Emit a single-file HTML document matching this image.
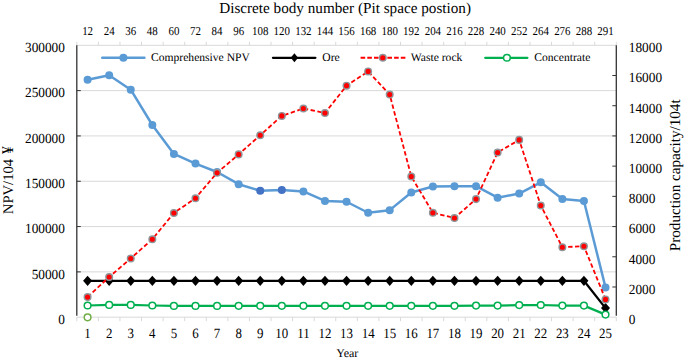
<!DOCTYPE html>
<html><head><meta charset="utf-8"><style>
html,body{margin:0;padding:0;background:#fff;}
body{width:685px;height:360px;overflow:hidden;}
svg{display:block;}
text{font-family:"Liberation Serif", serif;fill:#000;text-rendering:geometricPrecision;}
</style></head><body>
<svg width="685" height="360" viewBox="0 0 685 360">
<rect width="685" height="360" fill="#fff"/>

<line x1="76.8" y1="271.88" x2="616.3" y2="271.88" stroke="#d9d9d9" stroke-width="1"/>
<line x1="76.8" y1="226.57" x2="616.3" y2="226.57" stroke="#d9d9d9" stroke-width="1"/>
<line x1="76.8" y1="181.25" x2="616.3" y2="181.25" stroke="#d9d9d9" stroke-width="1"/>
<line x1="76.8" y1="135.93" x2="616.3" y2="135.93" stroke="#d9d9d9" stroke-width="1"/>
<line x1="76.8" y1="90.62" x2="616.3" y2="90.62" stroke="#d9d9d9" stroke-width="1"/>
<line x1="76.8" y1="45.30" x2="616.3" y2="45.30" stroke="#d9d9d9" stroke-width="1"/>
<line x1="76.8" y1="317.20" x2="616.3" y2="317.20" stroke="#d9d9d9" stroke-width="1"/>
<line x1="76.80" y1="317.2" x2="76.80" y2="321.2" stroke="#d9d9d9" stroke-width="1"/>
<line x1="98.38" y1="317.2" x2="98.38" y2="321.2" stroke="#d9d9d9" stroke-width="1"/>
<line x1="119.96" y1="317.2" x2="119.96" y2="321.2" stroke="#d9d9d9" stroke-width="1"/>
<line x1="141.54" y1="317.2" x2="141.54" y2="321.2" stroke="#d9d9d9" stroke-width="1"/>
<line x1="163.12" y1="317.2" x2="163.12" y2="321.2" stroke="#d9d9d9" stroke-width="1"/>
<line x1="184.70" y1="317.2" x2="184.70" y2="321.2" stroke="#d9d9d9" stroke-width="1"/>
<line x1="206.28" y1="317.2" x2="206.28" y2="321.2" stroke="#d9d9d9" stroke-width="1"/>
<line x1="227.86" y1="317.2" x2="227.86" y2="321.2" stroke="#d9d9d9" stroke-width="1"/>
<line x1="249.44" y1="317.2" x2="249.44" y2="321.2" stroke="#d9d9d9" stroke-width="1"/>
<line x1="271.02" y1="317.2" x2="271.02" y2="321.2" stroke="#d9d9d9" stroke-width="1"/>
<line x1="292.60" y1="317.2" x2="292.60" y2="321.2" stroke="#d9d9d9" stroke-width="1"/>
<line x1="314.18" y1="317.2" x2="314.18" y2="321.2" stroke="#d9d9d9" stroke-width="1"/>
<line x1="335.76" y1="317.2" x2="335.76" y2="321.2" stroke="#d9d9d9" stroke-width="1"/>
<line x1="357.34" y1="317.2" x2="357.34" y2="321.2" stroke="#d9d9d9" stroke-width="1"/>
<line x1="378.92" y1="317.2" x2="378.92" y2="321.2" stroke="#d9d9d9" stroke-width="1"/>
<line x1="400.50" y1="317.2" x2="400.50" y2="321.2" stroke="#d9d9d9" stroke-width="1"/>
<line x1="422.08" y1="317.2" x2="422.08" y2="321.2" stroke="#d9d9d9" stroke-width="1"/>
<line x1="443.66" y1="317.2" x2="443.66" y2="321.2" stroke="#d9d9d9" stroke-width="1"/>
<line x1="465.24" y1="317.2" x2="465.24" y2="321.2" stroke="#d9d9d9" stroke-width="1"/>
<line x1="486.82" y1="317.2" x2="486.82" y2="321.2" stroke="#d9d9d9" stroke-width="1"/>
<line x1="508.40" y1="317.2" x2="508.40" y2="321.2" stroke="#d9d9d9" stroke-width="1"/>
<line x1="529.98" y1="317.2" x2="529.98" y2="321.2" stroke="#d9d9d9" stroke-width="1"/>
<line x1="551.56" y1="317.2" x2="551.56" y2="321.2" stroke="#d9d9d9" stroke-width="1"/>
<line x1="573.14" y1="317.2" x2="573.14" y2="321.2" stroke="#d9d9d9" stroke-width="1"/>
<line x1="594.72" y1="317.2" x2="594.72" y2="321.2" stroke="#d9d9d9" stroke-width="1"/>
<line x1="616.30" y1="317.2" x2="616.30" y2="321.2" stroke="#d9d9d9" stroke-width="1"/>
<line x1="76.80" y1="45.3" x2="76.80" y2="41.8" stroke="#d9d9d9" stroke-width="1"/>
<line x1="98.38" y1="45.3" x2="98.38" y2="41.8" stroke="#d9d9d9" stroke-width="1"/>
<line x1="119.96" y1="45.3" x2="119.96" y2="41.8" stroke="#d9d9d9" stroke-width="1"/>
<line x1="141.54" y1="45.3" x2="141.54" y2="41.8" stroke="#d9d9d9" stroke-width="1"/>
<line x1="163.12" y1="45.3" x2="163.12" y2="41.8" stroke="#d9d9d9" stroke-width="1"/>
<line x1="184.70" y1="45.3" x2="184.70" y2="41.8" stroke="#d9d9d9" stroke-width="1"/>
<line x1="206.28" y1="45.3" x2="206.28" y2="41.8" stroke="#d9d9d9" stroke-width="1"/>
<line x1="227.86" y1="45.3" x2="227.86" y2="41.8" stroke="#d9d9d9" stroke-width="1"/>
<line x1="249.44" y1="45.3" x2="249.44" y2="41.8" stroke="#d9d9d9" stroke-width="1"/>
<line x1="271.02" y1="45.3" x2="271.02" y2="41.8" stroke="#d9d9d9" stroke-width="1"/>
<line x1="292.60" y1="45.3" x2="292.60" y2="41.8" stroke="#d9d9d9" stroke-width="1"/>
<line x1="314.18" y1="45.3" x2="314.18" y2="41.8" stroke="#d9d9d9" stroke-width="1"/>
<line x1="335.76" y1="45.3" x2="335.76" y2="41.8" stroke="#d9d9d9" stroke-width="1"/>
<line x1="357.34" y1="45.3" x2="357.34" y2="41.8" stroke="#d9d9d9" stroke-width="1"/>
<line x1="378.92" y1="45.3" x2="378.92" y2="41.8" stroke="#d9d9d9" stroke-width="1"/>
<line x1="400.50" y1="45.3" x2="400.50" y2="41.8" stroke="#d9d9d9" stroke-width="1"/>
<line x1="422.08" y1="45.3" x2="422.08" y2="41.8" stroke="#d9d9d9" stroke-width="1"/>
<line x1="443.66" y1="45.3" x2="443.66" y2="41.8" stroke="#d9d9d9" stroke-width="1"/>
<line x1="465.24" y1="45.3" x2="465.24" y2="41.8" stroke="#d9d9d9" stroke-width="1"/>
<line x1="486.82" y1="45.3" x2="486.82" y2="41.8" stroke="#d9d9d9" stroke-width="1"/>
<line x1="508.40" y1="45.3" x2="508.40" y2="41.8" stroke="#d9d9d9" stroke-width="1"/>
<line x1="529.98" y1="45.3" x2="529.98" y2="41.8" stroke="#d9d9d9" stroke-width="1"/>
<line x1="551.56" y1="45.3" x2="551.56" y2="41.8" stroke="#d9d9d9" stroke-width="1"/>
<line x1="573.14" y1="45.3" x2="573.14" y2="41.8" stroke="#d9d9d9" stroke-width="1"/>
<line x1="594.72" y1="45.3" x2="594.72" y2="41.8" stroke="#d9d9d9" stroke-width="1"/>
<line x1="616.30" y1="45.3" x2="616.30" y2="41.8" stroke="#d9d9d9" stroke-width="1"/>
<line x1="76.8" y1="45.3" x2="76.8" y2="315.7" stroke="#333" stroke-width="1.3"/>
<line x1="76.8" y1="271.88" x2="80.8" y2="271.88" stroke="#333" stroke-width="1"/>
<line x1="76.8" y1="226.57" x2="80.8" y2="226.57" stroke="#333" stroke-width="1"/>
<line x1="76.8" y1="181.25" x2="80.8" y2="181.25" stroke="#333" stroke-width="1"/>
<line x1="76.8" y1="135.93" x2="80.8" y2="135.93" stroke="#333" stroke-width="1"/>
<line x1="76.8" y1="90.62" x2="80.8" y2="90.62" stroke="#333" stroke-width="1"/>
<line x1="616.3" y1="45.3" x2="616.3" y2="315.7" stroke="#333" stroke-width="1.3"/>
<line x1="612.3" y1="286.99" x2="616.3" y2="286.99" stroke="#333" stroke-width="1"/>
<line x1="612.3" y1="256.78" x2="616.3" y2="256.78" stroke="#333" stroke-width="1"/>
<line x1="612.3" y1="226.57" x2="616.3" y2="226.57" stroke="#333" stroke-width="1"/>
<line x1="612.3" y1="196.36" x2="616.3" y2="196.36" stroke="#333" stroke-width="1"/>
<line x1="612.3" y1="166.14" x2="616.3" y2="166.14" stroke="#333" stroke-width="1"/>
<line x1="612.3" y1="135.93" x2="616.3" y2="135.93" stroke="#333" stroke-width="1"/>
<line x1="612.3" y1="105.72" x2="616.3" y2="105.72" stroke="#333" stroke-width="1"/>
<line x1="612.3" y1="75.51" x2="616.3" y2="75.51" stroke="#333" stroke-width="1"/>
<polyline points="87.59,79.80 109.17,75.25 130.75,89.70 152.33,125.00 173.91,153.90 195.49,163.60 217.07,172.00 238.65,184.20 260.23,190.80 281.81,189.90 303.39,191.45 324.97,200.95 346.55,201.75 368.13,212.75 389.71,210.15 411.29,192.55 432.87,186.45 454.45,186.25 476.03,186.15 497.61,197.65 519.19,193.55 540.77,182.35 562.35,199.05 583.93,201.05 605.51,287.40" fill="none" stroke="#5b9bd5" stroke-width="2.5" stroke-linejoin="round"/>
<circle cx="87.59" cy="79.80" r="4.0" fill="#5b9bd5"/>
<circle cx="109.17" cy="75.25" r="4.0" fill="#5b9bd5"/>
<circle cx="130.75" cy="89.70" r="4.0" fill="#5b9bd5"/>
<circle cx="152.33" cy="125.00" r="4.0" fill="#5b9bd5"/>
<circle cx="173.91" cy="153.90" r="4.0" fill="#5b9bd5"/>
<circle cx="195.49" cy="163.60" r="4.0" fill="#5b9bd5"/>
<circle cx="217.07" cy="172.00" r="4.0" fill="#5b9bd5"/>
<circle cx="238.65" cy="184.20" r="4.0" fill="#5b9bd5"/>
<circle cx="260.23" cy="190.80" r="4.0" fill="#4472c4"/>
<circle cx="281.81" cy="189.90" r="4.0" fill="#4472c4"/>
<circle cx="303.39" cy="191.45" r="4.0" fill="#5b9bd5"/>
<circle cx="324.97" cy="200.95" r="4.0" fill="#5b9bd5"/>
<circle cx="346.55" cy="201.75" r="4.0" fill="#5b9bd5"/>
<circle cx="368.13" cy="212.75" r="4.0" fill="#5b9bd5"/>
<circle cx="389.71" cy="210.15" r="4.0" fill="#5b9bd5"/>
<circle cx="411.29" cy="192.55" r="4.0" fill="#5b9bd5"/>
<circle cx="432.87" cy="186.45" r="4.0" fill="#5b9bd5"/>
<circle cx="454.45" cy="186.25" r="4.0" fill="#5b9bd5"/>
<circle cx="476.03" cy="186.15" r="4.0" fill="#5b9bd5"/>
<circle cx="497.61" cy="197.65" r="4.0" fill="#5b9bd5"/>
<circle cx="519.19" cy="193.55" r="4.0" fill="#5b9bd5"/>
<circle cx="540.77" cy="182.35" r="4.0" fill="#5b9bd5"/>
<circle cx="562.35" cy="199.05" r="4.0" fill="#5b9bd5"/>
<circle cx="583.93" cy="201.05" r="4.0" fill="#5b9bd5"/>
<circle cx="605.51" cy="287.40" r="4.0" fill="#5b9bd5"/>
<polyline points="87.59,280.80 109.17,280.80 130.75,280.80 152.33,280.80 173.91,280.80 195.49,280.80 217.07,280.80 238.65,280.80 260.23,280.80 281.81,280.80 303.39,280.80 324.97,280.80 346.55,280.80 368.13,280.80 389.71,280.80 411.29,280.80 432.87,280.80 454.45,280.80 476.03,280.80 497.61,280.80 519.19,280.80 540.77,280.80 562.35,280.80 583.93,280.80 605.51,308.10" fill="none" stroke="#000" stroke-width="2.25" stroke-linejoin="round"/>
<path d="M83.09,280.80 L87.59,275.70 L92.09,280.80 L87.59,285.90Z" fill="#000"/>
<path d="M104.67,280.80 L109.17,275.70 L113.67,280.80 L109.17,285.90Z" fill="#000"/>
<path d="M126.25,280.80 L130.75,275.70 L135.25,280.80 L130.75,285.90Z" fill="#000"/>
<path d="M147.83,280.80 L152.33,275.70 L156.83,280.80 L152.33,285.90Z" fill="#000"/>
<path d="M169.41,280.80 L173.91,275.70 L178.41,280.80 L173.91,285.90Z" fill="#000"/>
<path d="M190.99,280.80 L195.49,275.70 L199.99,280.80 L195.49,285.90Z" fill="#000"/>
<path d="M212.57,280.80 L217.07,275.70 L221.57,280.80 L217.07,285.90Z" fill="#000"/>
<path d="M234.15,280.80 L238.65,275.70 L243.15,280.80 L238.65,285.90Z" fill="#000"/>
<path d="M255.73,280.80 L260.23,275.70 L264.73,280.80 L260.23,285.90Z" fill="#000"/>
<path d="M277.31,280.80 L281.81,275.70 L286.31,280.80 L281.81,285.90Z" fill="#000"/>
<path d="M298.89,280.80 L303.39,275.70 L307.89,280.80 L303.39,285.90Z" fill="#000"/>
<path d="M320.47,280.80 L324.97,275.70 L329.47,280.80 L324.97,285.90Z" fill="#000"/>
<path d="M342.05,280.80 L346.55,275.70 L351.05,280.80 L346.55,285.90Z" fill="#000"/>
<path d="M363.63,280.80 L368.13,275.70 L372.63,280.80 L368.13,285.90Z" fill="#000"/>
<path d="M385.21,280.80 L389.71,275.70 L394.21,280.80 L389.71,285.90Z" fill="#000"/>
<path d="M406.79,280.80 L411.29,275.70 L415.79,280.80 L411.29,285.90Z" fill="#000"/>
<path d="M428.37,280.80 L432.87,275.70 L437.37,280.80 L432.87,285.90Z" fill="#000"/>
<path d="M449.95,280.80 L454.45,275.70 L458.95,280.80 L454.45,285.90Z" fill="#000"/>
<path d="M471.53,280.80 L476.03,275.70 L480.53,280.80 L476.03,285.90Z" fill="#000"/>
<path d="M493.11,280.80 L497.61,275.70 L502.11,280.80 L497.61,285.90Z" fill="#000"/>
<path d="M514.69,280.80 L519.19,275.70 L523.69,280.80 L519.19,285.90Z" fill="#000"/>
<path d="M536.27,280.80 L540.77,275.70 L545.27,280.80 L540.77,285.90Z" fill="#000"/>
<path d="M557.85,280.80 L562.35,275.70 L566.85,280.80 L562.35,285.90Z" fill="#000"/>
<path d="M579.43,280.80 L583.93,275.70 L588.43,280.80 L583.93,285.90Z" fill="#000"/>
<path d="M601.01,308.10 L605.51,303.00 L610.01,308.10 L605.51,313.20Z" fill="#000"/>
<polyline points="87.59,297.10 109.17,276.95 130.75,258.45 152.33,239.20 173.91,212.95 195.49,198.20 217.07,172.80 238.65,154.40 260.23,135.20 281.81,115.90 303.39,108.50 324.97,113.00 346.55,85.70 368.13,71.40 389.71,94.60 411.29,176.50 432.87,212.80 454.45,218.00 476.03,199.10 497.61,152.50 519.19,139.90 540.77,205.50 562.35,247.20 583.93,246.20 605.51,299.40" fill="none" stroke="#ff0000" stroke-width="1.8" stroke-dasharray="4.4 2.5"/>
<circle cx="87.59" cy="297.10" r="3.3" fill="#ff0000" stroke="#8f9699" stroke-width="1.45"/>
<circle cx="109.17" cy="276.95" r="3.3" fill="#ff0000" stroke="#8f9699" stroke-width="1.45"/>
<circle cx="130.75" cy="258.45" r="3.3" fill="#ff0000" stroke="#8f9699" stroke-width="1.45"/>
<circle cx="152.33" cy="239.20" r="3.3" fill="#ff0000" stroke="#8f9699" stroke-width="1.45"/>
<circle cx="173.91" cy="212.95" r="3.3" fill="#ff0000" stroke="#8f9699" stroke-width="1.45"/>
<circle cx="195.49" cy="198.20" r="3.3" fill="#ff0000" stroke="#8f9699" stroke-width="1.45"/>
<circle cx="217.07" cy="172.80" r="3.3" fill="#ff0000" stroke="#8f9699" stroke-width="1.45"/>
<circle cx="238.65" cy="154.40" r="3.3" fill="#ff0000" stroke="#8f9699" stroke-width="1.45"/>
<circle cx="260.23" cy="135.20" r="3.3" fill="#ff0000" stroke="#8f9699" stroke-width="1.45"/>
<circle cx="281.81" cy="115.90" r="3.3" fill="#ff0000" stroke="#8f9699" stroke-width="1.45"/>
<circle cx="303.39" cy="108.50" r="3.3" fill="#ff0000" stroke="#8f9699" stroke-width="1.45"/>
<circle cx="324.97" cy="113.00" r="3.3" fill="#ff0000" stroke="#8f9699" stroke-width="1.45"/>
<circle cx="346.55" cy="85.70" r="3.3" fill="#ff0000" stroke="#8f9699" stroke-width="1.45"/>
<circle cx="368.13" cy="71.40" r="3.3" fill="#ff0000" stroke="#8f9699" stroke-width="1.45"/>
<circle cx="389.71" cy="94.60" r="3.3" fill="#ff0000" stroke="#8f9699" stroke-width="1.45"/>
<circle cx="411.29" cy="176.50" r="3.3" fill="#ff0000" stroke="#8f9699" stroke-width="1.45"/>
<circle cx="432.87" cy="212.80" r="3.3" fill="#ff0000" stroke="#8f9699" stroke-width="1.45"/>
<circle cx="454.45" cy="218.00" r="3.3" fill="#ff0000" stroke="#8f9699" stroke-width="1.45"/>
<circle cx="476.03" cy="199.10" r="3.3" fill="#ff0000" stroke="#8f9699" stroke-width="1.45"/>
<circle cx="497.61" cy="152.50" r="3.3" fill="#ff0000" stroke="#8f9699" stroke-width="1.45"/>
<circle cx="519.19" cy="139.90" r="3.3" fill="#ff0000" stroke="#8f9699" stroke-width="1.45"/>
<circle cx="540.77" cy="205.50" r="3.3" fill="#ff0000" stroke="#8f9699" stroke-width="1.45"/>
<circle cx="562.35" cy="247.20" r="3.3" fill="#ff0000" stroke="#8f9699" stroke-width="1.45"/>
<circle cx="583.93" cy="246.20" r="3.3" fill="#ff0000" stroke="#8f9699" stroke-width="1.45"/>
<circle cx="605.51" cy="299.40" r="3.3" fill="#ff0000" stroke="#8f9699" stroke-width="1.45"/>
<polyline points="87.59,305.50 109.17,304.90 130.75,304.90 152.33,305.50 173.91,305.90 195.49,305.90 217.07,305.90 238.65,305.80 260.23,305.80 281.81,305.80 303.39,305.80 324.97,305.80 346.55,305.80 368.13,305.80 389.71,305.80 411.29,305.80 432.87,305.80 454.45,305.80 476.03,305.60 497.61,305.60 519.19,305.10 540.77,305.00 562.35,305.60 583.93,305.60 605.51,314.60" fill="none" stroke="#00b050" stroke-width="2.25" stroke-linejoin="round"/>
<circle cx="87.59" cy="305.50" r="3.35" fill="#fff" stroke="#00b050" stroke-width="1.5"/>
<circle cx="109.17" cy="304.90" r="3.35" fill="#fff" stroke="#00b050" stroke-width="1.5"/>
<circle cx="130.75" cy="304.90" r="3.35" fill="#fff" stroke="#00b050" stroke-width="1.5"/>
<circle cx="152.33" cy="305.50" r="3.35" fill="#fff" stroke="#00b050" stroke-width="1.5"/>
<circle cx="173.91" cy="305.90" r="3.35" fill="#fff" stroke="#00b050" stroke-width="1.5"/>
<circle cx="195.49" cy="305.90" r="3.35" fill="#fff" stroke="#00b050" stroke-width="1.5"/>
<circle cx="217.07" cy="305.90" r="3.35" fill="#fff" stroke="#00b050" stroke-width="1.5"/>
<circle cx="238.65" cy="305.80" r="3.35" fill="#fff" stroke="#00b050" stroke-width="1.5"/>
<circle cx="260.23" cy="305.80" r="3.35" fill="#fff" stroke="#00b050" stroke-width="1.5"/>
<circle cx="281.81" cy="305.80" r="3.35" fill="#fff" stroke="#00b050" stroke-width="1.5"/>
<circle cx="303.39" cy="305.80" r="3.35" fill="#fff" stroke="#00b050" stroke-width="1.5"/>
<circle cx="324.97" cy="305.80" r="3.35" fill="#fff" stroke="#00b050" stroke-width="1.5"/>
<circle cx="346.55" cy="305.80" r="3.35" fill="#fff" stroke="#00b050" stroke-width="1.5"/>
<circle cx="368.13" cy="305.80" r="3.35" fill="#fff" stroke="#00b050" stroke-width="1.5"/>
<circle cx="389.71" cy="305.80" r="3.35" fill="#fff" stroke="#00b050" stroke-width="1.5"/>
<circle cx="411.29" cy="305.80" r="3.35" fill="#fff" stroke="#00b050" stroke-width="1.5"/>
<circle cx="432.87" cy="305.80" r="3.35" fill="#fff" stroke="#00b050" stroke-width="1.5"/>
<circle cx="454.45" cy="305.80" r="3.35" fill="#fff" stroke="#00b050" stroke-width="1.5"/>
<circle cx="476.03" cy="305.60" r="3.35" fill="#fff" stroke="#00b050" stroke-width="1.5"/>
<circle cx="497.61" cy="305.60" r="3.35" fill="#fff" stroke="#00b050" stroke-width="1.5"/>
<circle cx="519.19" cy="305.10" r="3.35" fill="#fff" stroke="#00b050" stroke-width="1.5"/>
<circle cx="540.77" cy="305.00" r="3.35" fill="#fff" stroke="#00b050" stroke-width="1.5"/>
<circle cx="562.35" cy="305.60" r="3.35" fill="#fff" stroke="#00b050" stroke-width="1.5"/>
<circle cx="583.93" cy="305.60" r="3.35" fill="#fff" stroke="#00b050" stroke-width="1.5"/>
<circle cx="605.51" cy="314.60" r="3.35" fill="#fff" stroke="#00b050" stroke-width="1.5"/>
<circle cx="87.59" cy="317.3" r="3.35" fill="#fff" stroke="#70ad47" stroke-width="1.5"/>
<line x1="102.25" y1="57.75" x2="144.45" y2="57.75" stroke="#5b9bd5" stroke-width="2.5" stroke-linecap="round"/>
<circle cx="123.4" cy="57.75" r="4.0" fill="#5b9bd5"/>
<line x1="272.925" y1="57.75" x2="315.375" y2="57.75" stroke="#000" stroke-width="2.25" stroke-linecap="round"/>
<path d="M290.7,57.75 L294.4,53.35 L298.09999999999997,57.75 L294.4,62.15Z" fill="#000"/>
<line x1="360.6" y1="57.75" x2="405.4" y2="57.75" stroke="#ff0000" stroke-width="1.8" stroke-dasharray="4.6 2.1"/>
<circle cx="382.8" cy="57.75" r="3.3" fill="#ff0000" stroke="#8f9699" stroke-width="1.45"/>
<line x1="485.225" y1="57.75" x2="527.375" y2="57.75" stroke="#00b050" stroke-width="2.25" stroke-linecap="round"/>
<circle cx="506.9" cy="57.75" r="3.35" fill="#fff" stroke="#00b050" stroke-width="1.5"/>
<text x="151" y="61.35" font-size="11.6">Comprehensive NPV</text>
<text x="322.3" y="61.35" font-size="11.6">Ore</text>
<text x="410.8" y="61.35" font-size="11.6">Waste rock</text>
<text x="534.3" y="61.35" font-size="11.6">Concentrate</text>
<text transform="translate(64.90,324.00) scale(0.95,1)" font-size="14" text-anchor="end">0</text>
<text transform="translate(64.90,278.68) scale(0.95,1)" font-size="14" text-anchor="end">50000</text>
<text transform="translate(64.90,233.37) scale(0.95,1)" font-size="14" text-anchor="end">100000</text>
<text transform="translate(64.90,188.05) scale(0.95,1)" font-size="14" text-anchor="end">150000</text>
<text transform="translate(64.90,142.73) scale(0.95,1)" font-size="14" text-anchor="end">200000</text>
<text transform="translate(64.90,97.42) scale(0.95,1)" font-size="14" text-anchor="end">250000</text>
<text transform="translate(64.90,52.10) scale(0.95,1)" font-size="14" text-anchor="end">300000</text>
<text transform="translate(628.80,324.00) scale(0.95,1)" font-size="14" text-anchor="start">0</text>
<text transform="translate(628.80,293.79) scale(0.95,1)" font-size="14" text-anchor="start">2000</text>
<text transform="translate(628.80,263.58) scale(0.95,1)" font-size="14" text-anchor="start">4000</text>
<text transform="translate(628.80,233.37) scale(0.95,1)" font-size="14" text-anchor="start">6000</text>
<text transform="translate(628.80,203.16) scale(0.95,1)" font-size="14" text-anchor="start">8000</text>
<text transform="translate(628.80,172.94) scale(0.95,1)" font-size="14" text-anchor="start">10000</text>
<text transform="translate(628.80,142.73) scale(0.95,1)" font-size="14" text-anchor="start">12000</text>
<text transform="translate(628.80,112.52) scale(0.95,1)" font-size="14" text-anchor="start">14000</text>
<text transform="translate(628.80,82.31) scale(0.95,1)" font-size="14" text-anchor="start">16000</text>
<text transform="translate(628.80,52.10) scale(0.95,1)" font-size="14" text-anchor="start">18000</text>
<text transform="translate(87.59,338.00) scale(0.91,1)" font-size="14.2" text-anchor="middle">1</text>
<text transform="translate(109.17,338.00) scale(0.91,1)" font-size="14.2" text-anchor="middle">2</text>
<text transform="translate(130.75,338.00) scale(0.91,1)" font-size="14.2" text-anchor="middle">3</text>
<text transform="translate(152.33,338.00) scale(0.91,1)" font-size="14.2" text-anchor="middle">4</text>
<text transform="translate(173.91,338.00) scale(0.91,1)" font-size="14.2" text-anchor="middle">5</text>
<text transform="translate(195.49,338.00) scale(0.91,1)" font-size="14.2" text-anchor="middle">6</text>
<text transform="translate(217.07,338.00) scale(0.91,1)" font-size="14.2" text-anchor="middle">7</text>
<text transform="translate(238.65,338.00) scale(0.91,1)" font-size="14.2" text-anchor="middle">8</text>
<text transform="translate(260.23,338.00) scale(0.91,1)" font-size="14.2" text-anchor="middle">9</text>
<text transform="translate(281.81,338.00) scale(0.91,1)" font-size="14.2" text-anchor="middle">10</text>
<text transform="translate(303.39,338.00) scale(0.91,1)" font-size="14.2" text-anchor="middle">11</text>
<text transform="translate(324.97,338.00) scale(0.91,1)" font-size="14.2" text-anchor="middle">12</text>
<text transform="translate(346.55,338.00) scale(0.91,1)" font-size="14.2" text-anchor="middle">13</text>
<text transform="translate(368.13,338.00) scale(0.91,1)" font-size="14.2" text-anchor="middle">14</text>
<text transform="translate(389.71,338.00) scale(0.91,1)" font-size="14.2" text-anchor="middle">15</text>
<text transform="translate(411.29,338.00) scale(0.91,1)" font-size="14.2" text-anchor="middle">16</text>
<text transform="translate(432.87,338.00) scale(0.91,1)" font-size="14.2" text-anchor="middle">17</text>
<text transform="translate(454.45,338.00) scale(0.91,1)" font-size="14.2" text-anchor="middle">18</text>
<text transform="translate(476.03,338.00) scale(0.91,1)" font-size="14.2" text-anchor="middle">19</text>
<text transform="translate(497.61,338.00) scale(0.91,1)" font-size="14.2" text-anchor="middle">20</text>
<text transform="translate(519.19,338.00) scale(0.91,1)" font-size="14.2" text-anchor="middle">21</text>
<text transform="translate(540.77,338.00) scale(0.91,1)" font-size="14.2" text-anchor="middle">22</text>
<text transform="translate(562.35,338.00) scale(0.91,1)" font-size="14.2" text-anchor="middle">23</text>
<text transform="translate(583.93,338.00) scale(0.91,1)" font-size="14.2" text-anchor="middle">24</text>
<text transform="translate(605.51,338.00) scale(0.91,1)" font-size="14.2" text-anchor="middle">25</text>
<text transform="translate(87.59,35.20) scale(0.91,1)" font-size="12" text-anchor="middle">12</text>
<text transform="translate(109.17,35.20) scale(0.91,1)" font-size="12" text-anchor="middle">24</text>
<text transform="translate(130.75,35.20) scale(0.91,1)" font-size="12" text-anchor="middle">36</text>
<text transform="translate(152.33,35.20) scale(0.91,1)" font-size="12" text-anchor="middle">48</text>
<text transform="translate(173.91,35.20) scale(0.91,1)" font-size="12" text-anchor="middle">60</text>
<text transform="translate(195.49,35.20) scale(0.91,1)" font-size="12" text-anchor="middle">72</text>
<text transform="translate(217.07,35.20) scale(0.91,1)" font-size="12" text-anchor="middle">84</text>
<text transform="translate(238.65,35.20) scale(0.91,1)" font-size="12" text-anchor="middle">96</text>
<text transform="translate(260.23,35.20) scale(0.91,1)" font-size="12" text-anchor="middle">108</text>
<text transform="translate(281.81,35.20) scale(0.91,1)" font-size="12" text-anchor="middle">120</text>
<text transform="translate(303.39,35.20) scale(0.91,1)" font-size="12" text-anchor="middle">132</text>
<text transform="translate(324.97,35.20) scale(0.91,1)" font-size="12" text-anchor="middle">144</text>
<text transform="translate(346.55,35.20) scale(0.91,1)" font-size="12" text-anchor="middle">156</text>
<text transform="translate(368.13,35.20) scale(0.91,1)" font-size="12" text-anchor="middle">168</text>
<text transform="translate(389.71,35.20) scale(0.91,1)" font-size="12" text-anchor="middle">180</text>
<text transform="translate(411.29,35.20) scale(0.91,1)" font-size="12" text-anchor="middle">192</text>
<text transform="translate(432.87,35.20) scale(0.91,1)" font-size="12" text-anchor="middle">204</text>
<text transform="translate(454.45,35.20) scale(0.91,1)" font-size="12" text-anchor="middle">216</text>
<text transform="translate(476.03,35.20) scale(0.91,1)" font-size="12" text-anchor="middle">228</text>
<text transform="translate(497.61,35.20) scale(0.91,1)" font-size="12" text-anchor="middle">240</text>
<text transform="translate(519.19,35.20) scale(0.91,1)" font-size="12" text-anchor="middle">252</text>
<text transform="translate(540.77,35.20) scale(0.91,1)" font-size="12" text-anchor="middle">264</text>
<text transform="translate(562.35,35.20) scale(0.91,1)" font-size="12" text-anchor="middle">276</text>
<text transform="translate(583.93,35.20) scale(0.91,1)" font-size="12" text-anchor="middle">288</text>
<text transform="translate(605.51,35.20) scale(0.91,1)" font-size="12" text-anchor="middle">291</text>
<text x="219.2" y="13" font-size="15.2">Discrete body number (Pit space postion)</text>
<text x="347.3" y="356.8" font-size="12" text-anchor="middle">Year</text>
<text transform="translate(13.3,214.2) rotate(-90)" font-size="14.67">NPV/104</text>
<text transform="translate(13.3,153.9) rotate(-90) scale(1.07,1.12)" font-size="14.67">¥</text>
<text transform="translate(680,251.2) rotate(-90)" font-size="15.15">Production capacity/104t</text>
</svg></body></html>
